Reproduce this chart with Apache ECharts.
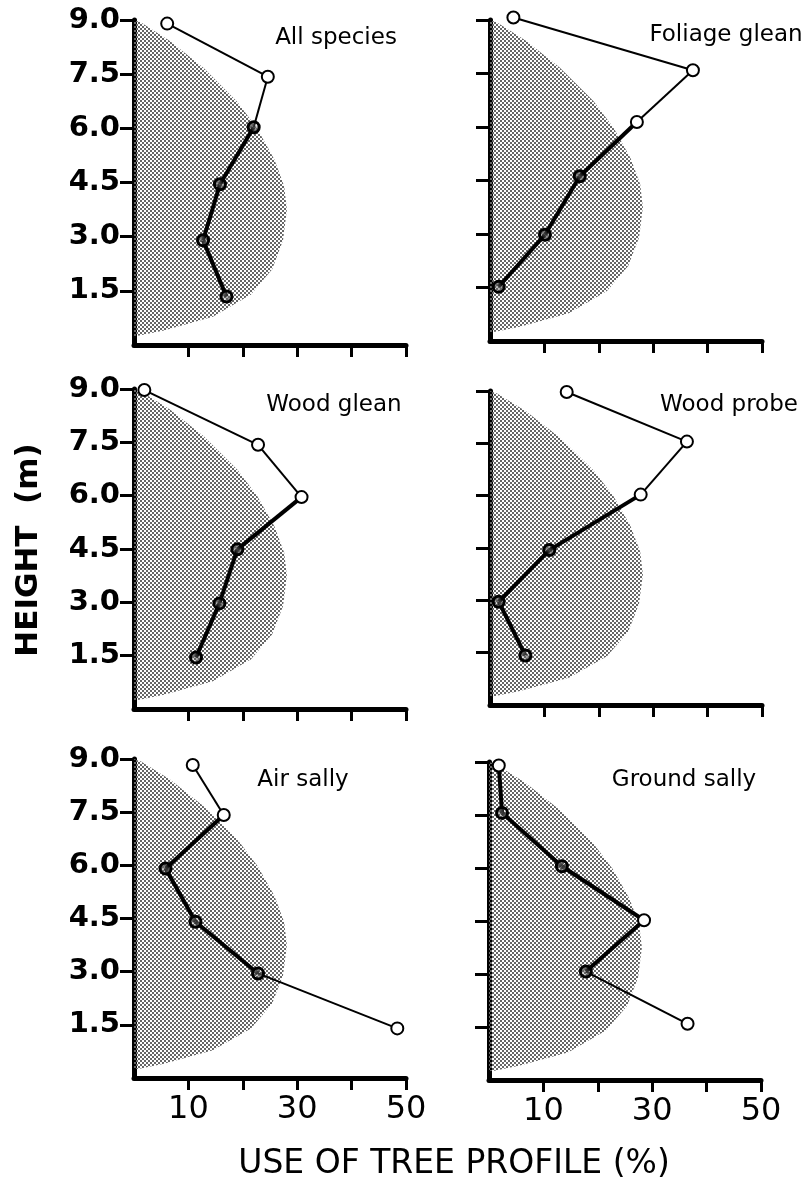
<!DOCTYPE html>
<html>
<head>
<meta charset="utf-8">
<script src="https://cdn.jsdelivr.net/npm/echarts@6/dist/echarts.min.js"></script>
<style>
  html, body { margin: 0; padding: 0; background: #fff; }
  #chart { width: 802px; height: 1188px; }
</style>
</head>
<body>
<div id="chart"></div>
<script>
"use strict";
// tick marks
const heightTicks = [1.5, 3.0, 4.5, 6.0, 7.5, 9.0];
const useTicks = [10, 20, 30, 40, 50];
const useLabels = [10, 30, 50];

// outline of the tree profile (the shaded area), traced top to bottom
const profileUse    = [0, 1.3, 6.6, 12.8, 19.0, 22.7, 25.8, 27.6, 28.1, 27.4, 25.4, 21.5, 14.5, 5.5, 1.0, 0];
const profileHeight = [9.0, 8.93, 8.42, 7.67, 6.73, 5.98, 5.14, 4.4, 3.75, 2.9, 2.1, 1.4, 0.78, 0.4, 0.26, 0.25];

// use of each height class, % (x) and height as drawn, m (y)
const allSpeciesUse     = [6.1, 24.6, 22.0, 15.8, 12.7, 17.0];
const allSpeciesHeight  = [8.9, 7.43, 6.03, 4.45, 2.9, 1.34];
const foliageGleanUse    = [4.3, 37.3, 27.0, 16.5, 10.1, 1.6];
const foliageGleanHeight = [9.07, 7.59, 6.14, 4.62, 2.98, 1.52];
const woodGleanUse      = [1.9, 22.8, 30.8, 19.0, 15.7, 11.4];
const woodGleanHeight   = [8.97, 7.43, 5.96, 4.49, 2.97, 1.45];
const woodProbeUse      = [14.1, 36.2, 27.7, 10.9, 1.6, 6.5];
const woodProbeHeight   = [8.97, 7.55, 6.03, 4.44, 2.96, 1.42];
const airSallyUse       = [10.8, 16.5, 5.8, 11.3, 22.8, 48.4];
const airSallyHeight    = [8.83, 7.42, 5.91, 4.41, 2.95, 1.40];
const groundSallyUse    = [1.8, 2.4, 13.4, 28.5, 17.8, 36.5];
const groundSallyHeight = [8.9, 7.56, 6.05, 4.52, 3.07, 1.59];

const panelNames = ['All species', 'Foliage glean', 'Wood glean', 'Wood probe', 'Air sally', 'Ground sally'];

// layout of the six little plots
const panels = [
  { use: allSpeciesUse, height: allSpeciesHeight, left: 134, top: 20, h: 325, tx: 336, ty: 38 },
  { use: foliageGleanUse, height: foliageGleanHeight, left: 490, top: 20, h: 321, tx: 726, ty: 35 },
  { use: woodGleanUse, height: woodGleanHeight, left: 134, top: 389, h: 320, tx: 334, ty: 405 },
  { use: woodProbeUse, height: woodProbeHeight, left: 490, top: 391, h: 314, tx: 729, ty: 405 },
  { use: airSallyUse, height: airSallyHeight, left: 134, top: 759, h: 319, tx: 303, ty: 780 },
  { use: groundSallyUse, height: groundSallyHeight, left: 489, top: 762, h: 318, tx: 684, ty: 780 }
];

// stipple used for the profile
const tile = document.createElement('canvas');
tile.width = 4;
tile.height = 4;
const tctx = tile.getContext('2d');
tctx.fillStyle = '#666';
tctx.fillRect(0, 0, 2, 2);
tctx.fillRect(2, 2, 2, 2);
const stipple = { image: tile, repeat: 'repeat' };

// width of the profile at a given height
function profileWidth(h) {
  for (let i = 0; i < profileUse.length - 1; i++) {
    const h1 = profileHeight[i], h2 = profileHeight[i + 1];
    if (h <= h1 && h >= h2 && h1 !== h2) {
      const t = (h1 - h) / (h1 - h2);
      return profileUse[i] + t * (profileUse[i + 1] - profileUse[i]);
    }
  }
  return 0;
}
function inProfile(u, h) {
  return u < profileWidth(h);
}

const chart = echarts.init(document.getElementById('chart'), null, { renderer: 'canvas' });

const grids = [], xAxes = [], yAxes = [], series = [], texts = [];
const font = '"DejaVu Sans", sans-serif';

panels.forEach(function (p, i) {
  const leftCol = i % 2 === 0;
  const bottomRow = i >= 4;
  grids.push({ left: p.left, top: p.top, width: 272, height: p.h, containLabel: false, outerBoundsMode: 'none' });
  xAxes.push({
    type: 'value', gridIndex: i, min: 0, max: 50, interval: 10,
    axisLine: { show: true, onZero: false, lineStyle: { color: '#000', width: 5 } },
    axisTick: { show: true, customValues: useTicks, length: 12, lineStyle: { color: '#000', width: 3 } },
    axisLabel: {
      show: bottomRow, customValues: useLabels, margin: 16,
      fontSize: 32, fontFamily: font, color: '#000',
      formatter: function (v) { return useLabels.indexOf(v) >= 0 ? String(v) : ''; }
    },
    splitLine: { show: false }
  });
  yAxes.push({
    type: 'value', gridIndex: i, min: 0, max: 9, interval: 1.5,
    axisLine: { show: true, onZero: false, lineStyle: { color: '#000', width: 5 } },
    axisTick: { show: true, customValues: heightTicks, length: 14, lineStyle: { color: '#000', width: 3 } },
    axisLabel: {
      show: leftCol, customValues: heightTicks, margin: 14,
      fontSize: 29, fontWeight: 'bold', fontFamily: font, color: '#000',
      formatter: function (v) { return v === 0 ? '' : v.toFixed(1); }
    },
    splitLine: { show: false }
  });

  // shaded tree profile
  series.push({
    type: 'custom', xAxisIndex: i, yAxisIndex: i, silent: true, z: 1, clip: false,
    data: [[0, 0]],
    renderItem: function (params, api) {
      const pts = profileUse.map(function (u, k) { return api.coord([u, profileHeight[k]]); });
      return { type: 'polygon', shape: { points: pts }, style: { fill: stipple, stroke: null } };
    }
  });

  // connecting segments, heavier where they run over the profile
  const segs = [];
  for (let k = 0; k < p.use.length - 1; k++) {
    segs.push([p.use[k], p.height[k], p.use[k + 1], p.height[k + 1]]);
  }
  series.push({
    type: 'custom', xAxisIndex: i, yAxisIndex: i, silent: true, z: 2, clip: false,
    encode: { x: [0, 2], y: [1, 3] },
    data: segs,
    renderItem: function (params, api) {
      const u1 = api.value(0), h1 = api.value(1), u2 = api.value(2), h2 = api.value(3);
      const a = api.coord([u1, h1]), b = api.coord([u2, h2]);
      const thick = inProfile((u1 + u2) / 2, (h1 + h2) / 2);
      return {
        type: 'line',
        shape: { x1: a[0], y1: a[1], x2: b[0], y2: b[1] },
        style: { stroke: '#000', lineWidth: thick ? 4 : 2 }
      };
    }
  });

  // open circles
  series.push({
    type: 'scatter', xAxisIndex: i, yAxisIndex: i, silent: true, z: 3, clip: false,
    symbol: 'circle',
    itemStyle: { borderColor: '#000', opacity: 1 },
    data: p.use.map(function (u, k) {
      const inside = inProfile(u, p.height[k]);
      return {
        value: [u, p.height[k]],
        symbolSize: inside ? 11 : 12,
        itemStyle: inside ? { color: stipple, borderWidth: 3 } : { color: '#fff', borderWidth: 2 }
      };
    })
  });

  texts.push({
    type: 'text', x: p.tx, y: p.ty, silent: true,
    style: {
      text: panelNames[i], font: '23px ' + font, fill: '#000',
      align: 'center', verticalAlign: 'middle', textAlign: 'center', textVerticalAlign: 'middle'
    }
  });
});

texts.push({
  type: 'text', x: 29, y: 550, rotation: Math.PI / 2, silent: true,
  style: {
    text: 'HEIGHT  (m)', font: 'bold 31px ' + font, fill: '#000',
    align: 'center', verticalAlign: 'middle', textAlign: 'center', textVerticalAlign: 'middle'
  }
});
texts.push({
  type: 'text', x: 454, y: 1164, silent: true,
  style: {
    text: 'USE OF TREE PROFILE (%)', font: '33px ' + font, fill: '#000',
    align: 'center', verticalAlign: 'middle', textAlign: 'center', textVerticalAlign: 'middle'
  }
});

chart.setOption({
  animation: false,
  backgroundColor: '#fff',
  grid: grids,
  xAxis: xAxes,
  yAxis: yAxes,
  series: series,
  graphic: { elements: texts }
});
</script>
</body>
</html>
